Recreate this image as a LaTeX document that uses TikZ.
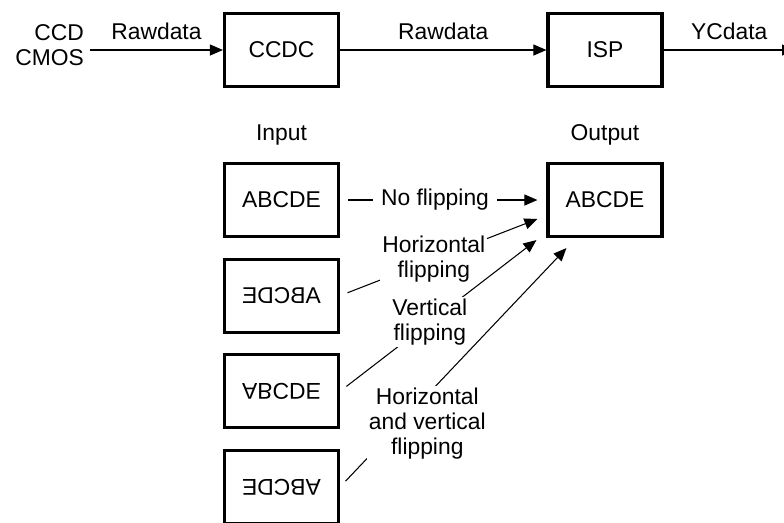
\documentclass[tikz,border=0pt]{standalone}
\usepackage{fontspec}
\setmainfont{Liberation Sans}
\usetikzlibrary{arrows.meta,positioning,calc}

\begin{document}
\begin{tikzpicture}[
    x=0.02cm, y=-0.02cm,
    blk/.style={draw, line width=1.8pt, minimum width=2.28cm, minimum height=1.46cm, align=center},
    flow/.style={-{Triangle[length=0.26cm, width=0.22cm]}, line width=0.6pt},
    tag/.style={fill=white, inner sep=0.04cm, align=center},
    every node/.append style={font=\fontsize{13}{14.2}\selectfont},
    node distance=0.39cm,
  ]
  \useasboundingbox (0,0) rectangle (784,522);

  % Capture chain
  \node[anchor=east, align=right] (sensor) at (90,45) {CCD\\CMOS};
  \node[blk] (ccdc) at (281.5,50) {CCDC};
  \node[blk] (isp) at (605,50) {ISP};
  \coordinate (ycout) at (795,50);

  % Flipping modes
  \node[blk] (in1) at (281.5,200) {ABCDE};
  \node[blk, below=of in1] (in2) {\reflectbox{ABCDE}};
  \node[blk, below=of in2] (in3) {\scalebox{1}[-1]{ABCDE}};
  \node[blk, below=of in3] (in4) {\rotatebox{180}{ABCDE}};
  \node[blk] (out) at (605,200) {ABCDE};
  \node[above=0.2cm of in1] (input) {Input};
  \node[above=0.2cm of out] (output) {Output};

  % Data path
  \draw[flow] (sensor.east |- ccdc.west) -- node[above=0.08cm] {Rawdata} (ccdc.west);
  \draw[flow] (ccdc.east) -- node[above=0.08cm] {Rawdata} (isp.west);
  \draw[flow] (isp.east) -- node[above=0.08cm] {YCdata} (ycout);

  % Flip connections
  \draw[flow, shorten <=0.16cm, shorten >=0.18cm] (in1.east) -- node[tag, pos=0.46, inner xsep=0.16cm] {No flipping} (out.west);
  \draw[flow, shorten <=0.16cm] (in2.east) -- node[tag, pos=0.475] {Horizontal\\flipping} ($(out.west)+(-9,19)$);
  \draw[flow, shorten <=0.16cm] (in3.east) -- node[tag, pos=0.457] {Vertical\\flipping} ($(out.south west)+(-10,2)$);
  \draw[flow, shorten <=0.16cm] (in4.east) -- node[tag, pos=0.266, xshift=0.54cm] {Horizontal\\and vertical\\flipping} ($(out.south west)+(20,10)$);
\end{tikzpicture}
\end{document}
